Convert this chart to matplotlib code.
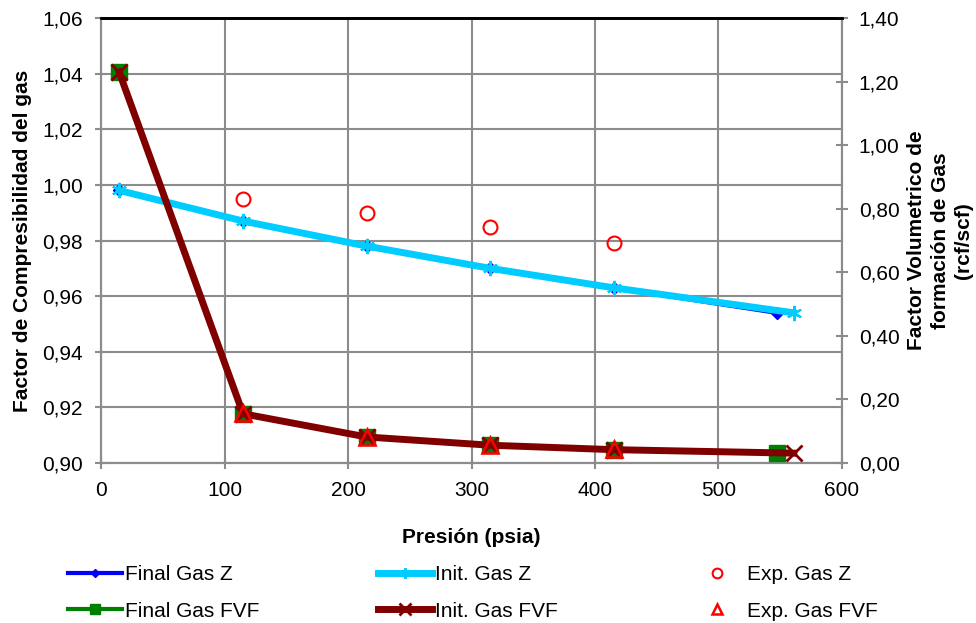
import matplotlib
matplotlib.use("Agg")
import matplotlib.pyplot as plt
from matplotlib.ticker import FuncFormatter, MultipleLocator

plt.rcParams["font.family"] = ["Liberation Sans", "DejaVu Sans"]

# Pressure points (psia)
p_final = [14.7, 115, 215, 315, 415, 547]
p_init = [14.7, 115, 215, 315, 415, 561]
p_exp = [115, 215, 315, 415]

# Gas compressibility factor Z
z_final = [0.998, 0.987, 0.978, 0.970, 0.963, 0.954]
z_init = [0.998, 0.987, 0.978, 0.970, 0.963, 0.954]
z_exp = [0.995, 0.990, 0.985, 0.979]

# Gas formation volume factor (rcf/scf)
fvf_final = [1.230, 0.155, 0.082, 0.056, 0.042, 0.031]
fvf_init = [1.230, 0.155, 0.082, 0.056, 0.042, 0.031]
fvf_exp = [0.157, 0.083, 0.057, 0.043]

GRID = "#8c8c8c"
FS = 15


def comma(fmt):
    return FuncFormatter(lambda v, _: format(v, fmt).replace(".", ","))


fig = plt.figure(figsize=(9.76, 6.23), dpi=100)
ax = fig.add_axes([0.1035, 0.2568, 0.7592, 0.7143])
ax2 = ax.twinx()

fz, = ax.plot(p_final, z_final, color="#0000ff", lw=3, marker="D", ms=6,
              zorder=3)
iz, = ax.plot(p_init, z_init, color="#00ccff", lw=5, marker=(6, 2, 0),
              ms=11, mew=1.5, zorder=4)
ez, = ax.plot(p_exp, z_exp, ls="none", marker="o", ms=10, mfc="none",
              mec="#ff0000", mew=1.5, zorder=5)

ff, = ax2.plot(p_final, fvf_final, color="#008000", lw=3, marker="s", ms=11,
               zorder=3)
fi, = ax2.plot(p_init, fvf_init, color="#800000", lw=5, marker="x", ms=12,
               mew=2, zorder=4)
fe, = ax2.plot(p_exp, fvf_exp, ls="none", marker="^", ms=11, mfc="none",
               mec="#ff0000", mew=1.8, zorder=5)

ax.set_xlim(0, 600)
ax.set_ylim(0.90, 1.06)
ax2.set_ylim(0, 1.40)
ax.xaxis.set_major_locator(MultipleLocator(100))
ax.yaxis.set_major_locator(MultipleLocator(0.02))
ax2.yaxis.set_major_locator(MultipleLocator(0.2))
ax.yaxis.set_major_formatter(comma(".2f"))
ax2.yaxis.set_major_formatter(comma(".2f"))

ax.grid(True, color=GRID, lw=1.5)
ax.set_axisbelow(True)

for a in (ax, ax2):
    for side in ("left", "right", "bottom"):
        a.spines[side].set_color(GRID)
        a.spines[side].set_linewidth(1.5)
    a.spines["top"].set_color("black")
    a.spines["top"].set_linewidth(2)
    a.tick_params(direction="inout", length=8, width=1.5, color=GRID,
                  labelsize=FS)
ax.spines["bottom"].set_color("#707070")
ax.tick_params(axis="x", pad=9)
ax.tick_params(axis="y", pad=9)
ax2.tick_params(axis="y", pad=8)

ax.set_xlabel("Presión (psia)", fontsize=FS, fontweight="bold", labelpad=20)
ax.set_ylabel("Factor de Compresibilidad del gas", fontsize=FS,
              fontweight="bold", labelpad=7)
ax2.set_ylabel("Factor Volumetrico de\nformación de Gas\n(rcf/scf)",
               fontsize=FS, fontweight="bold", linespacing=1.3)
ax2.yaxis.set_label_coords(1.088, 0.5)

# Legend laid out as three fixed-width columns
columns = [
    (68, [fz, ff], ["Final Gas Z", "Final Gas FVF"]),
    (378, [iz, fi], ["Init. Gas Z", "Init. Gas FVF"]),
    (690, [ez, fe], ["Exp. Gas Z", "Exp. Gas FVF"]),
]
for x0, handles, labels in columns:
    fig.legend(handles, labels, loc="upper left",
               bbox_to_anchor=(x0 / 976, 0.093), frameon=False, fontsize=FS,
               borderpad=0, borderaxespad=0, handlelength=2.6,
               handletextpad=0.15, labelspacing=0.85, markerscale=0.7)

fig.savefig("out.png", dpi=100)
